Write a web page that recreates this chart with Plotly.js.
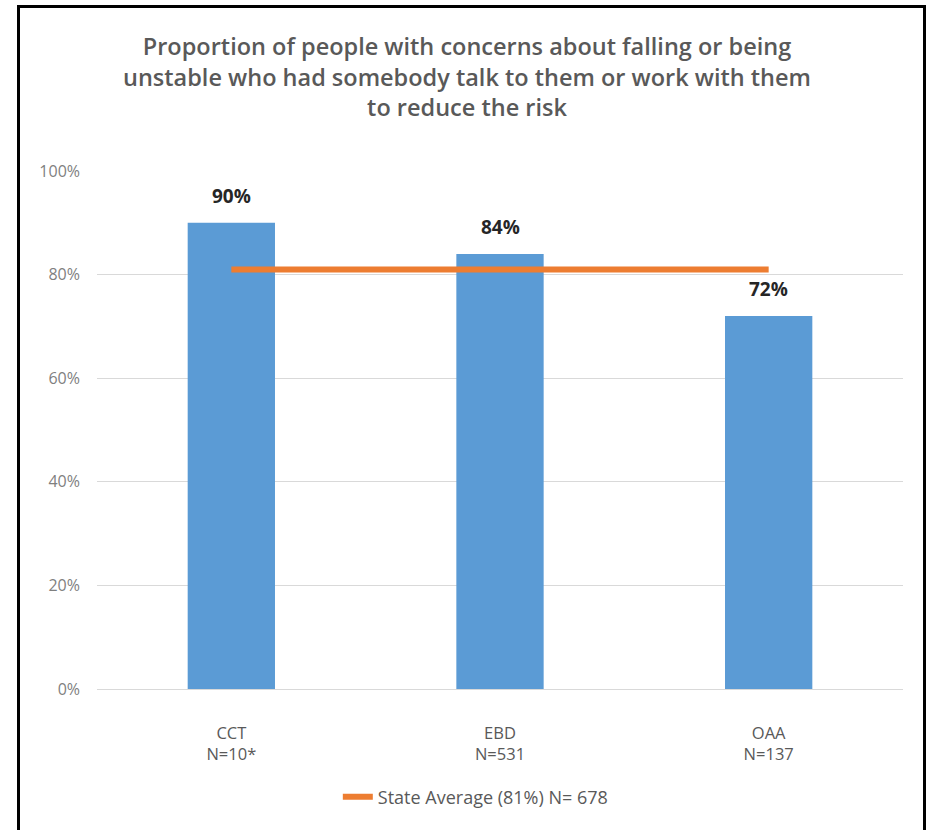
<!DOCTYPE html>
<html>
<head>
<meta charset="utf-8">
<script src="https://cdn.plot.ly/plotly-3.0.1.min.js"></script>
<style>
  html, body { margin: 0; padding: 0; background: #fff; }
  #wrap { position: relative; width: 934px; height: 830px; overflow: hidden; }
  #chart { position: absolute; left: 0; top: 0; width: 934px; height: 830px; }
  #frame { position: absolute; left: 17px; top: 5px; width: 903px; height: 840px;
           border: 3px solid #000; pointer-events: none; }
</style>
</head>
<body>
<div id="wrap">
  <div id="chart"></div>
  <div id="frame"></div>
</div>
<script>
const categories = ["CCT", "EBD", "OAA"];
const sampleSizes = ["N=10*", "N=531", "N=137"];
const values = [90, 84, 72];
const stateAverage = [81, 81, 81];
const stateLabel = "State Average (81%) N= 678";
const titleText = "Proportion of people with concerns about falling or being<br>unstable who had somebody talk to them or work with them<br>to reduce the risk";
const yTicks = [0, 20, 40, 60, 80, 100];

const tickText = categories.map((c, i) => c + "<br>" + sampleSizes[i]);

const bars = {
  type: "bar",
  x: categories,
  y: values,
  marker: { color: "#5B9BD5" },
  showlegend: false,
  hoverinfo: "x+y"
};

const avgLine = {
  type: "scatter",
  mode: "lines",
  x: categories,
  y: stateAverage,
  name: stateLabel,
  line: { color: "#ED7D31", width: 6 }
};

const labels = categories.map((c, i) => ({
  x: c, y: values[i], xref: "x", yref: "y",
  text: values[i] + "%",
  showarrow: false, yanchor: "bottom", yshift: 12,
  font: { family: "Open Sans, sans-serif", size: 19, color: "#262626", weight: 700 }
}));

const layout = {
  width: 934, height: 830,
  margin: { l: 97, r: 31, t: 171, b: 141 },
  paper_bgcolor: "#ffffff",
  plot_bgcolor: "#ffffff",
  bargap: 0.675,
  title: {
    text: titleText,
    x: 0.5, xref: "container", xanchor: "center",
    y: 1 - 55 / 830, yref: "container", yanchor: "top",
    font: { family: "Open Sans, sans-serif", size: 23.5, color: "#595959", weight: 600 }
  },
  xaxis: {
    type: "category",
    tickvals: categories,
    ticktext: tickText,
    showgrid: false,
    showline: false,
    ticks: "",
    ticklabelstandoff: 32,
    tickfont: { family: "Open Sans, sans-serif", size: 16.5, color: "#595959" }
  },
  yaxis: {
    range: [0, 100],
    tickvals: yTicks,
    ticktext: yTicks.map(v => v + "%"),
    showgrid: true,
    gridcolor: "#d9d9d9",
    gridwidth: 1,
    zeroline: true,
    zerolinecolor: "#d9d9d9",
    zerolinewidth: 1,
    showline: false,
    ticks: "",
    ticklabelstandoff: 16,
    tickfont: { family: "Open Sans, sans-serif", size: 16, color: "#7f7f7f" }
  },
  showlegend: true,
  legend: {
    orientation: "h",
    x: 0.47, xanchor: "center",
    y: (689 - 797) / 518, yanchor: "middle",
    font: { family: "Open Sans, sans-serif", size: 18, color: "#595959" },
    bgcolor: "rgba(0,0,0,0)"
  },
  annotations: labels
};

Plotly.newPlot("chart", [bars, avgLine], layout, { displayModeBar: false, staticPlot: true });
</script>
</body>
</html>
